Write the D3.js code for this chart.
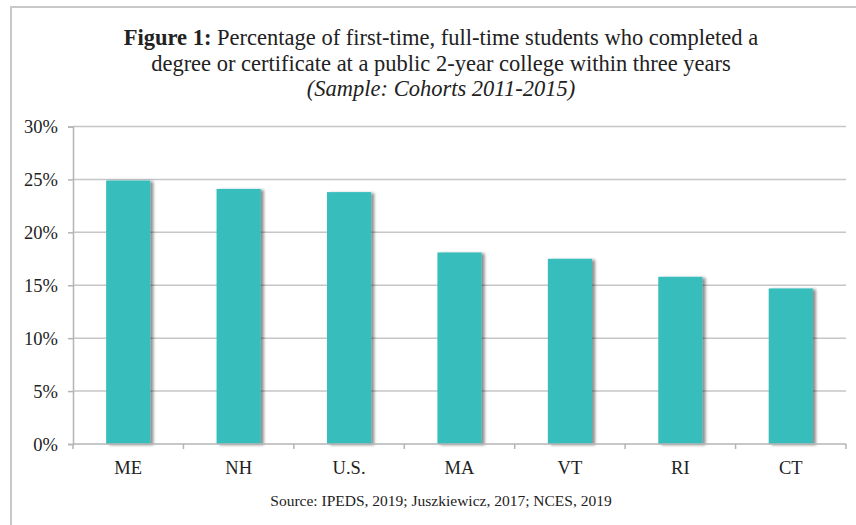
<!DOCTYPE html>
<html>
<head>
<meta charset="utf-8">
<script src="https://cdn.jsdelivr.net/npm/d3@7"></script>
<style>
  body { margin: 0; background: #fff; }
  text { font-family: "Liberation Serif", "Times New Roman", serif; fill: #222; }
</style>
</head>
<body>
<script>
// states compared, in chart order
var states = ['ME', 'NH', 'U.S.', 'MA', 'VT', 'RI', 'CT'];
// completion rate in percent
var rates = [24.9, 24.1, 23.8, 18.1, 17.5, 15.8, 14.7];
var yTicks = [0, 5, 10, 15, 20, 25, 30];

var width = 856;
var height = 525;
var margin = {top: 126.5, right: 10, bottom: 81, left: 73};

var svg = d3.select('body')
            .append('svg')
            .attr('width', width)
            .attr('height', height);

// shadow under the bars
var defs = svg.append('defs');
defs.append('filter')
    .attr('id', 'shadow')
    .attr('x', '-20%').attr('y', '-5%')
    .attr('width', '150%').attr('height', '120%')
  .append('feDropShadow')
    .attr('dx', 3).attr('dy', 1)
    .attr('stdDeviation', 1.8)
    .attr('flood-color', '#000')
    .attr('flood-opacity', 0.45);

// frame: top and left edges only
svg.append('line')
   .attr('x1', 10).attr('x2', width).attr('y1', 7).attr('y2', 7)
   .attr('stroke', '#c8c8c8').attr('stroke-width', 2);
svg.append('line')
   .attr('x1', 11).attr('x2', 11).attr('y1', 6).attr('y2', height)
   .attr('stroke', '#c8c8c8').attr('stroke-width', 2);

var x = d3.scaleBand()
          .domain(states)
          .range([margin.left, width - margin.right])
          .paddingInner(0.6)
          .paddingOuter(0.3);

var y = d3.scaleLinear()
          .domain([0, 30])
          .range([height - margin.bottom, margin.top]);

// gridlines
svg.append('g')
   .selectAll('line')
   .data(yTicks.slice(1))
   .enter()
   .append('line')
   .attr('x1', margin.left)
   .attr('x2', width - margin.right)
   .attr('y1', function(d) { return y(d); })
   .attr('y2', function(d) { return y(d); })
   .attr('stroke', '#c6c6c6')
   .attr('stroke-width', 1.5);

// bars
svg.append('g')
   .selectAll('rect')
   .data(rates)
   .enter()
   .append('rect')
   .attr('x', function(d, i) { return x(states[i]); })
   .attr('y', function(d) { return y(d); })
   .attr('width', x.bandwidth())
   .attr('height', function(d) { return y(0) - y(d); })
   .attr('fill', '#38bdbd')
   .attr('filter', 'url(#shadow)');

// y axis
var yAxis = svg.append('g')
   .attr('transform', 'translate(' + margin.left + ',0)')
   .call(d3.axisLeft(y).tickValues(yTicks).tickSize(5).tickPadding(10)
           .tickFormat(function(d) { return d + '%'; }));
yAxis.selectAll('text').style('font-size', '18.5px').attr('dy', '0.35em');

// x axis, ticks at band edges
var xAxis = svg.append('g')
   .attr('transform', 'translate(0,' + y(0) + ')');
xAxis.append('line')
   .attr('x1', margin.left).attr('x2', width - margin.right)
   .attr('stroke', '#b4b4b4').attr('stroke-width', 1.5);
var edges = d3.range(states.length + 1).map(function(i) { return margin.left + i * (width - margin.left - margin.right) / states.length; });
xAxis.selectAll('line.tk')
   .data(edges)
   .enter()
   .append('line')
   .attr('class', 'tk')
   .attr('x1', function(d) { return d; })
   .attr('x2', function(d) { return d; })
   .attr('y1', 0).attr('y2', 5)
   .attr('stroke', '#b4b4b4').attr('stroke-width', 1.5);
xAxis.selectAll('text')
   .data(states)
   .enter()
   .append('text')
   .attr('x', function(d) { return x(d) + x.bandwidth() / 2; })
   .attr('y', 30)
   .attr('text-anchor', 'middle')
   .style('font-size', '18.5px')
   .text(function(d) { return d; });

yAxis.select('.domain').attr('stroke', '#b4b4b4').attr('stroke-width', 1.5);
yAxis.selectAll('.tick line').attr('stroke', '#b4b4b4').attr('stroke-width', 1.5);
yAxis.selectAll('.tick text').attr('fill', '#222');

// title
var title = svg.append('text')
   .attr('x', 441)
   .attr('text-anchor', 'middle')
   .style('font-size', '22.5px');
var t1 = title.append('tspan').attr('x', 441).attr('y', 45);
t1.append('tspan').style('font-weight', 'bold').text('Figure 1:');
t1.append('tspan').text(' Percentage of first-time, full-time students who completed a');
title.append('tspan').attr('x', 441).attr('y', 71)
   .text('degree or certificate at a public 2-year college within three years');
title.append('tspan').attr('x', 441).attr('y', 96)
   .style('font-style', 'italic')
   .text('(Sample: Cohorts 2011-2015)');

// source note
svg.append('text')
   .attr('x', 441)
   .attr('y', 506)
   .attr('text-anchor', 'middle')
   .style('font-size', '15.5px')
   .text('Source: IPEDS, 2019; Juszkiewicz, 2017; NCES, 2019');
</script>
</body>
</html>
